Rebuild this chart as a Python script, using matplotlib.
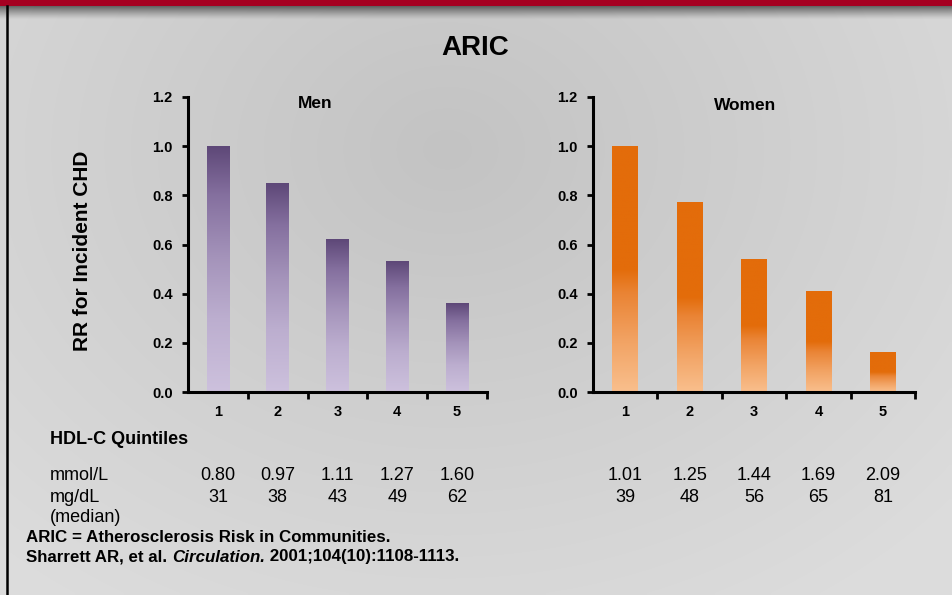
import numpy as np
import matplotlib.pyplot as plt
from matplotlib.colors import LinearSegmentedColormap
from matplotlib.patches import Rectangle
from matplotlib.transforms import blended_transform_factory

plt.rcParams['font.family'] = ['Liberation Sans', 'DejaVu Sans']

# HDL-C quintiles and relative risk of incident CHD
quintiles = [1, 2, 3, 4, 5]
men_rr = [1.0, 0.85, 0.62, 0.53, 0.36]
women_rr = [1.0, 0.77, 0.54, 0.41, 0.16]
men_mmol = ['0.80', '0.97', '1.11', '1.27', '1.60']
men_mg = ['31', '38', '43', '49', '62']
women_mmol = ['1.01', '1.25', '1.44', '1.69', '2.09']
women_mg = ['39', '48', '56', '65', '81']
yticks = [0.0, 0.2, 0.4, 0.6, 0.8, 1.0, 1.2]

W, H = 952, 595
fig = plt.figure(figsize=(W / 100, H / 100), dpi=100)


def fx(px):
    return px / W


def fy(py):
    return 1 - py / H


# slide background: soft grey radial shading
bg = fig.add_axes([0, 0, 1, 1], zorder=-10)
bg.set_xlim(0, W)
bg.set_ylim(H, 0)
bg.axis('off')
gx, gy = np.meshgrid(np.linspace(0, 1, 240), np.linspace(0, 1, 150))
r = np.sqrt((gx - 0.47) ** 2 + ((gy - 0.25) / 1.3) ** 2)
shade = np.clip(0.765 + 0.14 * r, 0, 0.865)
bg.imshow(np.dstack([shade] * 3), extent=[0, W, H, 0], aspect='auto',
          interpolation='bilinear')

# header: red band with a dark shadow fading under it
bg.add_patch(Rectangle((0, 0), W, 6, color='#A50021', lw=0))
fade = np.zeros((40, 1, 4))
fade[:, 0, 3] = np.linspace(0.62, 0.0, 40) ** 1.3
bg.imshow(fade, extent=[0, W, 20, 6], aspect='auto', interpolation='bilinear')
bg.plot([7, 7], [6, H], color='black', lw=1.8)
bg.set_xlim(0, W)
bg.set_ylim(H, 0)

men_cmap = LinearSegmentedColormap.from_list('men', [
    (0.0, '#CDC1DD'), (0.3, '#BCAECF'), (0.55, '#A493BA'),
    (0.8, '#85709F'), (1.0, '#5E4878')])
women_cmap = LinearSegmentedColormap.from_list('women', [
    (0.0, '#F9BF8D'), (0.2, '#F2A465'), (0.4, '#EA8435'),
    (0.5, '#E36C0A'), (1.0, '#E36C0A')])
ramp = np.linspace(0, 1, 256).reshape(-1, 1)


def draw_panel(rect, values, width, cmap):
    ax = fig.add_axes(rect)
    ax.patch.set_alpha(0)
    for q, v in zip(quintiles, values):
        ax.imshow(ramp, extent=[q - width / 2, q + width / 2, 0, v],
                  origin='lower', aspect='auto', cmap=cmap, zorder=2)
    ax.set_xlim(0.5, 5.5)
    ax.set_ylim(0, 1.2)
    for s in ['top', 'right']:
        ax.spines[s].set_visible(False)
    for s in ['left', 'bottom']:
        ax.spines[s].set_linewidth(2.2)
        ax.spines[s].set_color('black')
    ax.set_yticks(yticks)
    ax.set_yticklabels([f'{t:.1f}' for t in yticks], fontsize=10.5,
                       fontweight='bold')
    ax.tick_params(axis='y', length=4, width=2, pad=7)
    ax.set_xticks(quintiles)
    ax.set_xticklabels([str(q) for q in quintiles], fontsize=10.5,
                       fontweight='bold')
    ax.set_xticks([q + 0.5 for q in quintiles], minor=True)
    ax.tick_params(axis='x', which='major', length=0, pad=9)
    ax.tick_params(axis='x', which='minor', length=5, width=2)
    return ax


ax_men = draw_panel([fx(188), fy(392), fx(487) - fx(188), fy(97) - fy(392)],
                    men_rr, 0.38, men_cmap)
ax_women = draw_panel([fx(593), fy(392), fx(915) - fx(593), fy(97) - fy(392)],
                      women_rr, 0.40, women_cmap)

fig.text(fx(475), fy(48), 'ARIC', ha='center', va='center', fontsize=20,
         fontweight='bold')
fig.text(fx(315), fy(104), 'Men', ha='center', va='center', fontsize=12.5,
         fontweight='bold')
fig.text(fx(745), fy(105), 'Women', ha='center', va='center', fontsize=12.5,
         fontweight='bold')
fig.text(fx(82), fy(251), 'RR for Incident CHD', rotation=90, ha='center',
         va='center', fontsize=15, fontweight='bold')

# quintile medians under each panel
fig.text(fx(50), fy(440), 'HDL-C Quintiles', ha='left', va='center',
         fontsize=13, fontweight='bold')
for label, py in [('mmol/L', 475), ('mg/dL', 497), ('(median)', 518)]:
    fig.text(fx(50), fy(py), label, ha='left', va='center', fontsize=13)

for ax, mmol, mg in [(ax_men, men_mmol, men_mg), (ax_women, women_mmol, women_mg)]:
    trans = blended_transform_factory(ax.transData, fig.transFigure)
    for q, a, b in zip(quintiles, mmol, mg):
        ax.text(q, fy(475), a, transform=trans, ha='center', va='center',
                fontsize=13)
        ax.text(q, fy(497), b, transform=trans, ha='center', va='center',
                fontsize=13)

# footnote, second line mixes bold and bold italic
fig.text(fx(26), fy(538), 'ARIC = Atherosclerosis Risk in Communities.',
         ha='left', va='center', fontsize=12.2, fontweight='bold')
renderer = fig.canvas.get_renderer()
x = fx(26)
for part, style in [('Sharrett AR, et al. ', 'normal'),
                    ('Circulation.', 'italic'),
                    (' 2001;104(10):1108-1113.', 'normal')]:
    t = fig.text(x, fy(557), part, ha='left', va='center', fontsize=12.2,
                 fontweight='bold', fontstyle=style)
    bb = t.get_window_extent(renderer)
    x = bb.x1 / W

fig.savefig('out.png', dpi=100)
